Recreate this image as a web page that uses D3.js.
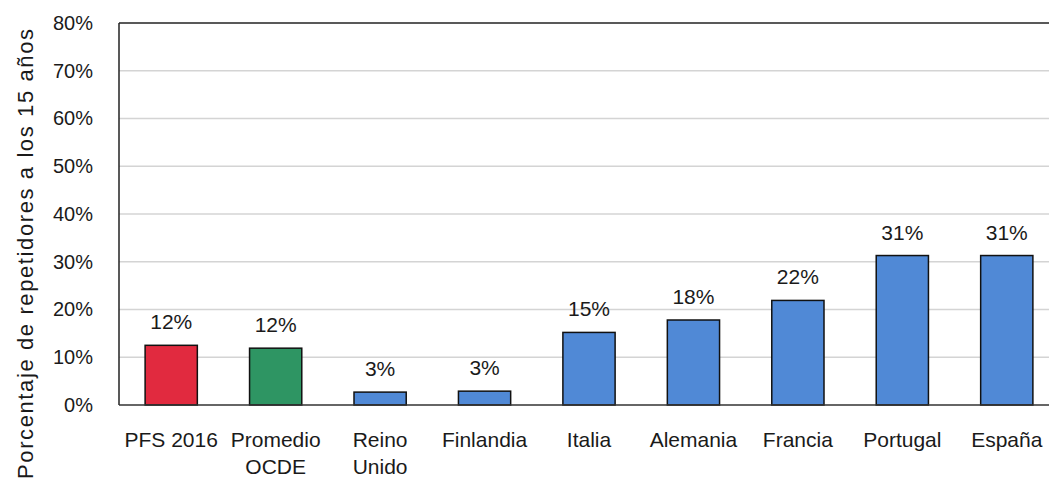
<!DOCTYPE html>
<html><head><meta charset="utf-8">
<script src="https://cdn.jsdelivr.net/npm/d3@7"></script>
<style>body{margin:0;background:#fff;overflow:hidden}svg{display:block}text{font-family:"Liberation Sans",Arial,sans-serif;fill:#1a1a1a}</style>
</head><body>
<svg id="c" width="1049" height="481"></svg>
<script>
const categories = [["PFS 2016"],["Promedio","OCDE"],["Reino","Unido"],["Finlandia"],["Italia"],["Alemania"],["Francia"],["Portugal"],["España"]];
const values = [12.5, 11.9, 2.7, 2.9, 15.2, 17.8, 21.9, 31.3, 31.3];
const labels = ["12%","12%","3%","3%","15%","18%","22%","31%","31%"];
const colors = ["#E12A3F","#2E9563","#5089D6","#5089D6","#5089D6","#5089D6","#5089D6","#5089D6","#5089D6"];
const yTicks = [0,10,20,30,40,50,60,70,80];
const yTitle = "Porcentaje de repetidores a los 15 años";

(function(){
const svg = d3.select("#c");
const mLeft = 119, mTop = 23, mBottom = 405, mRight = 1059;
const x = d3.scaleBand().domain(d3.range(categories.length)).range([mLeft, mRight]).paddingInner(0.5).paddingOuter(0.25);
const y = d3.scaleLinear().domain([0, 80]).range([mBottom, mTop]);

svg.append("g").selectAll("line").data(yTicks.filter(d => d > 0 && d < 80)).join("line")
  .attr("x1", mLeft).attr("x2", mRight).attr("y1", d => y(d)).attr("y2", d => y(d))
  .attr("stroke", "#d4d4d4").attr("stroke-width", 1.5);

svg.append("line").attr("x1", mLeft).attr("x2", mRight).attr("y1", mTop).attr("y2", mTop).attr("stroke", "#222").attr("stroke-width", 1.5);
svg.append("line").attr("x1", mLeft).attr("x2", mLeft).attr("y1", mTop).attr("y2", mBottom).attr("stroke", "#222").attr("stroke-width", 1.5);

const yAxis = svg.append("g").attr("transform", `translate(${mLeft},0)`)
  .call(d3.axisLeft(y).tickValues(yTicks).tickFormat(d => d + "%").tickSize(0).tickPadding(26));
yAxis.select(".domain").remove();
yAxis.selectAll("text").style("font-size", "20px").attr("fill", "#1a1a1a").style("font-family", '"Liberation Sans",Arial,sans-serif');

svg.append("g").selectAll("rect").data(values).join("rect")
  .attr("x", (d, i) => x(i)).attr("width", x.bandwidth())
  .attr("y", d => y(d)).attr("height", d => mBottom - y(d))
  .attr("fill", (d, i) => colors[i]).attr("stroke", "#111").attr("stroke-width", 1.5);

svg.append("line").attr("x1", mLeft).attr("x2", mRight).attr("y1", mBottom).attr("y2", mBottom).attr("stroke", "#333").attr("stroke-width", 1.5);

svg.append("g").selectAll("text").data(values).join("text")
  .attr("x", (d, i) => x(i) + x.bandwidth() / 2).attr("y", d => y(d) - 16)
  .attr("text-anchor", "middle").style("font-size", "21px").text((d, i) => labels[i]);

const cg = svg.append("g").selectAll("text").data(categories).join("text")
  .attr("x", (d, i) => x(i) + x.bandwidth() / 2).attr("y", 447)
  .attr("text-anchor", "middle").style("font-size", "21px");
cg.selectAll("tspan").data(d => d).join("tspan")
  .attr("x", function() { return d3.select(this.parentNode).attr("x"); })
  .attr("dy", (d, i) => i === 0 ? 0 : 27).text(d => d);

svg.append("text").attr("transform", "translate(33,254) rotate(-90)")
  .attr("text-anchor", "middle").style("font-size", "22px")
  .attr("textLength", 450).attr("lengthAdjust", "spacing").text(yTitle);
})();
</script>
</body></html>
